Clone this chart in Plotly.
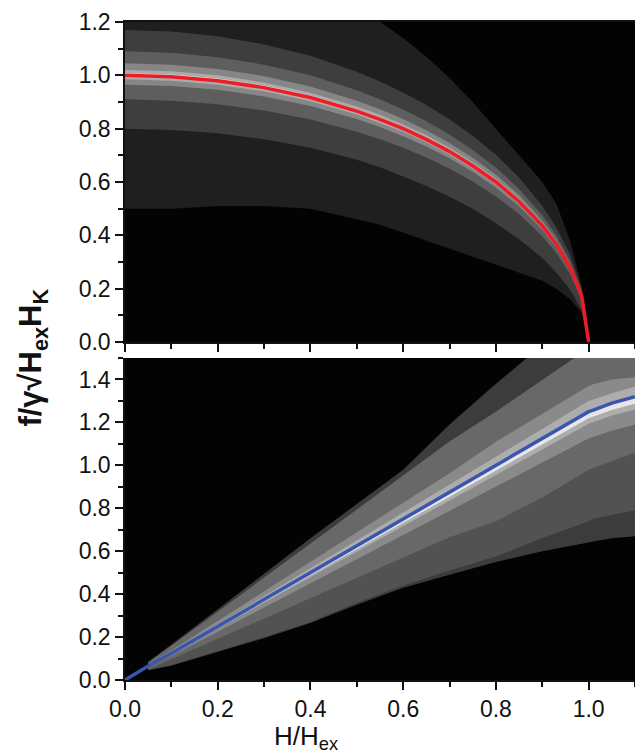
import plotly.graph_objects as go

# ---------------- data ----------------
# Top panel: H/Hex grid, main curve and grey band boundaries
H_top = [0.0, 0.1, 0.2, 0.3, 0.4, 0.5, 0.55, 0.6, 0.65, 0.7, 0.75, 0.8, 0.85, 0.9, 0.93, 0.96, 0.985, 1.0]
f_top = [1.000, 0.995, 0.980, 0.954, 0.917, 0.866, 0.835, 0.800, 0.760, 0.714, 0.661, 0.600, 0.527, 0.436, 0.368, 0.280, 0.173, 0.0]

top_outer_up = [1.25, 1.25, 1.25, 1.25, 1.24, 1.22, 1.20, 1.14, 1.07, 0.99, 0.90, 0.80, 0.70, 0.60, 0.52, 0.38, 0.21, 0.0]
top_l2_up = [1.170, 1.164, 1.147, 1.116, 1.073, 1.013, 0.977, 0.936, 0.889, 0.835, 0.773, 0.702, 0.617, 0.510, 0.431, 0.328, 0.202, 0.0]
top_l3_up = [1.090, 1.085, 1.068, 1.040, 1.000, 0.944, 0.910, 0.872, 0.828, 0.778, 0.720, 0.654, 0.574, 0.475, 0.401, 0.305, 0.189, 0.0]
top_l4_up = [1.045, 1.040, 1.024, 0.997, 0.958, 0.905, 0.873, 0.836, 0.794, 0.746, 0.691, 0.627, 0.551, 0.456, 0.385, 0.293, 0.181, 0.0]
top_l5_up = [1.020, 1.015, 1.000, 0.973, 0.935, 0.883, 0.852, 0.816, 0.775, 0.728, 0.674, 0.612, 0.538, 0.445, 0.375, 0.286, 0.176, 0.0]
top_w_up = [1.008, 1.003, 0.988, 0.962, 0.924, 0.873, 0.842, 0.806, 0.766, 0.720, 0.666, 0.605, 0.531, 0.439, 0.371, 0.282, 0.174, 0.0]
top_w_lo = [0.997, 0.992, 0.977, 0.951, 0.914, 0.863, 0.832, 0.798, 0.758, 0.712, 0.659, 0.598, 0.525, 0.435, 0.367, 0.279, 0.172, 0.0]
top_l5_lo = [0.985, 0.980, 0.965, 0.940, 0.903, 0.853, 0.822, 0.788, 0.749, 0.703, 0.651, 0.591, 0.519, 0.429, 0.362, 0.276, 0.170, 0.0]
top_l4_lo = [0.965, 0.960, 0.946, 0.921, 0.885, 0.836, 0.806, 0.772, 0.733, 0.689, 0.638, 0.579, 0.509, 0.421, 0.355, 0.270, 0.167, 0.0]
top_l3_lo = [0.910, 0.905, 0.892, 0.868, 0.834, 0.788, 0.760, 0.728, 0.692, 0.650, 0.602, 0.546, 0.480, 0.397, 0.335, 0.255, 0.157, 0.0]
top_l2_lo = [0.800, 0.795, 0.783, 0.760, 0.728, 0.683, 0.655, 0.620, 0.585, 0.545, 0.500, 0.445, 0.385, 0.315, 0.262, 0.196, 0.120, 0.0]
top_outer_lo = [0.50, 0.50, 0.51, 0.51, 0.50, 0.46, 0.44, 0.41, 0.38, 0.35, 0.32, 0.29, 0.26, 0.23, 0.20, 0.16, 0.11, 0.0]

# Bottom panel: main line
H_bot = [0.0, 0.05, 0.1, 0.2, 0.3, 0.4, 0.5, 0.6, 0.7, 0.8, 0.9, 1.0, 1.01, 1.05, 1.1]
f_bot = [0.0, 0.065, 0.125, 0.25, 0.375, 0.50, 0.625, 0.75, 0.875, 1.0, 1.125, 1.25, 1.257, 1.29, 1.32]

# Bottom panel: band boundaries (bands start at H = 0.05)
H_band = [0.05, 0.1, 0.2, 0.3, 0.4, 0.5, 0.6, 0.7, 0.8, 0.9, 1.0, 1.01, 1.05, 1.1]
bot_outer_up = [0.085, 0.165, 0.33, 0.495, 0.66, 0.82, 0.98, 1.19, 1.38, 1.56, 1.60, 1.60, 1.60, 1.60]
bot_l3_up = [0.082, 0.159, 0.318, 0.476, 0.635, 0.794, 0.953, 1.111, 1.25, 1.40, 1.55, 1.56, 1.58, 1.60]
bot_l4_up = [0.072, 0.138, 0.275, 0.413, 0.55, 0.688, 0.825, 0.963, 1.11, 1.24, 1.37, 1.378, 1.40, 1.41]
bot_l5_up = [0.068, 0.130, 0.26, 0.39, 0.52, 0.65, 0.78, 0.91, 1.042, 1.17, 1.30, 1.307, 1.336, 1.367]
bot_w_up = [0.066, 0.126, 0.252, 0.378, 0.503, 0.629, 0.755, 0.880, 1.006, 1.131, 1.257, 1.264, 1.297, 1.327]
bot_w_lo = [0.063, 0.122, 0.244, 0.366, 0.488, 0.609, 0.731, 0.853, 0.975, 1.097, 1.219, 1.226, 1.258, 1.287]
bot_l5_lo = [0.062, 0.119, 0.239, 0.358, 0.478, 0.597, 0.716, 0.836, 0.955, 1.074, 1.194, 1.20, 1.232, 1.26]
bot_l4_lo = [0.059, 0.113, 0.225, 0.338, 0.45, 0.563, 0.675, 0.788, 0.90, 1.013, 1.125, 1.131, 1.161, 1.19]
bot_l3_lo = [0.050, 0.095, 0.19, 0.285, 0.38, 0.475, 0.57, 0.665, 0.74, 0.85, 0.98, 0.99, 1.02, 1.06]
bot_l2_lo = [0.047, 0.070, 0.135, 0.20, 0.27, 0.36, 0.44, 0.51, 0.575, 0.66, 0.74, 0.75, 0.77, 0.79]
bot_outer_lo = [0.045, 0.066, 0.13, 0.195, 0.265, 0.35, 0.43, 0.49, 0.55, 0.60, 0.64, 0.645, 0.66, 0.67]

x_ticks = [0.0, 0.2, 0.4, 0.6, 0.8, 1.0]
x_title = "H/H<sub>ex</sub>"
y_title = "<b>f/γ√H<sub>ex</sub>H<sub>K</sub></b>"

# ---------------- figure ----------------
fig = go.Figure()


def band(xs, upper, lower, color, xa, ya):
    fig.add_trace(go.Scatter(
        x=list(xs) + list(xs)[::-1],
        y=list(upper) + list(lower)[::-1],
        fill="toself", fillcolor=color, mode="lines",
        line=dict(width=0, color=color), hoverinfo="skip",
        showlegend=False, xaxis=xa, yaxis=ya))


# top panel bands (outer -> inner)
band(H_top, top_outer_up, top_outer_lo, "#1f1f1f", "x2", "y2")
band(H_top, top_l2_up, top_l2_lo, "#3e3e3e", "x2", "y2")
band(H_top, top_l3_up, top_l3_lo, "#5e5e5e", "x2", "y2")
band(H_top, top_l4_up, top_l4_lo, "#868686", "x2", "y2")
band(H_top, top_l5_up, top_l5_lo, "#ababab", "x2", "y2")
band(H_top, top_w_up, top_w_lo, "#e6e6e6", "x2", "y2")
fig.add_trace(go.Scatter(x=H_top, y=f_top, mode="lines",
                         line=dict(color="#ee1c24", width=3.5),
                         showlegend=False, xaxis="x2", yaxis="y2"))

# bottom panel bands
band(H_band, bot_outer_up, bot_outer_lo, "#3c3c3c", "x", "y")
band(H_band, bot_l3_up, bot_l2_lo, "#525252", "x", "y")
band(H_band, bot_l3_up, bot_l3_lo, "#686868", "x", "y")
band(H_band, bot_l4_up, bot_l4_lo, "#8a8a8a", "x", "y")
band(H_band, bot_l5_up, bot_l5_lo, "#adadad", "x", "y")
band(H_band, bot_w_up, bot_w_lo, "#e6e6e6", "x", "y")
fig.add_trace(go.Scatter(x=H_bot, y=f_bot, mode="lines",
                         line=dict(color="#3a55b0", width=3.5),
                         showlegend=False, xaxis="x", yaxis="y"))

font_fam = "Liberation Sans, Arial, sans-serif"
tickfont = dict(family=font_fam, size=23, color="#111")

common_x = dict(range=[0, 1.1], tickvals=x_ticks, ticks="outside", ticklen=8,
                tickwidth=1.5, tickcolor="#111", showline=True, linecolor="#111",
                linewidth=1.5, showgrid=False, zeroline=False,
                minor=dict(dtick=0.1, tick0=0, ticks="outside", ticklen=5,
                           tickwidth=1.5, tickcolor="#111"))
common_y = dict(ticks="outside", ticklen=8, tickwidth=1.5, tickcolor="#111",
                showline=True, linecolor="#111", linewidth=1.5, showgrid=False,
                zeroline=False, dtick=0.2, tick0=0, tickformat=".1f",
                minor=dict(dtick=0.1, tick0=0, ticks="outside", ticklen=5,
                           tickwidth=1.5, tickcolor="#111"),
                tickfont=tickfont)

top_dom = [(680 - 342) / 658, 1.0]
bot_dom = [0.0, (680 - 358) / 658]

fig.update_layout(
    width=635, height=753,
    margin=dict(l=125, r=0, t=22, b=73),
    paper_bgcolor="white", plot_bgcolor="#030303",
    font=dict(family=font_fam, color="#111"),
    xaxis=dict(domain=[0, 1], anchor="y", tickformat=".1f", tickfont=tickfont,
               **common_x),
    yaxis=dict(domain=bot_dom, anchor="x", range=[0, 1.5], **common_y),
    xaxis2=dict(domain=[0, 1], anchor="y2", showticklabels=False, mirror=True,
                matches="x", **common_x),
    yaxis2=dict(domain=top_dom, anchor="x2", range=[0, 1.2], **common_y),
    annotations=[
        dict(text=x_title, xref="paper", yref="paper", x=0.355, y=0,
             yshift=-40, xanchor="center", yanchor="top", showarrow=False,
             borderpad=0,
             font=dict(family=font_fam, size=26, color="#111")),
        dict(text=y_title, xref="paper", yref="paper", x=0, xshift=-92,
             y=0.49, textangle=-90, xanchor="center", yanchor="middle",
             showarrow=False, font=dict(family=font_fam, size=31, color="#111")),
    ],
)

fig.write_html("out.html")
